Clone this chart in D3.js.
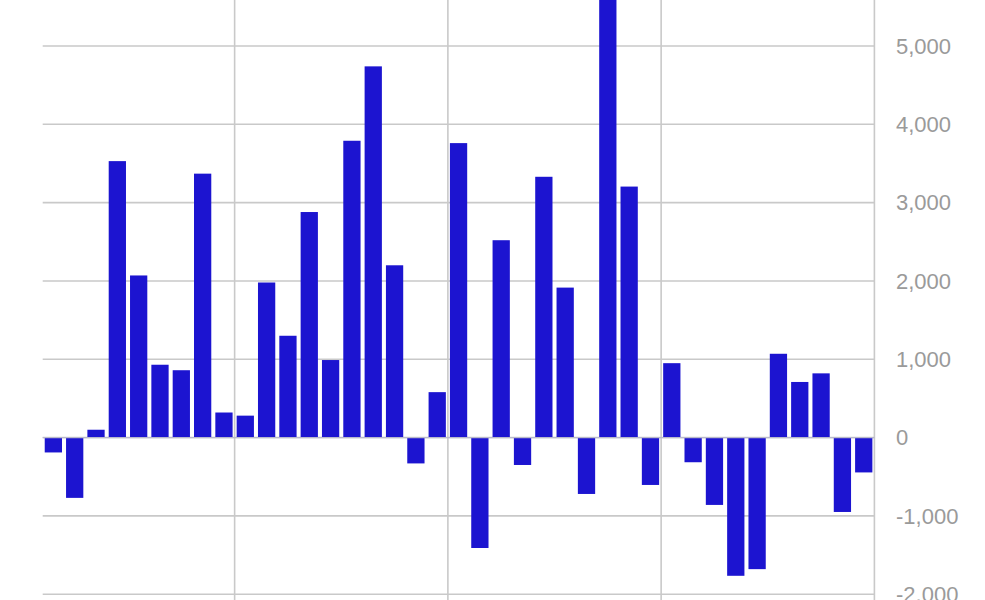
<!DOCTYPE html>
<html>
<head>
<meta charset="utf-8">
<script src="https://cdn.jsdelivr.net/npm/d3@7/dist/d3.min.js"></script>
<style>
  html, body { margin: 0; padding: 0; background: #fff; overflow: hidden; }
  svg { display: block; }
</style>
</head>
<body>
<svg id="chart" width="985" height="600"></svg>
<script>
// ---- data ----
const categories = d3.range(1, 40);
const values = [
  -190, -770, 100, 3530, 2070, 930, 860, 3370, 320, 280,
  1980, 1300, 2880, 990, 3790, 4740, 2200, -330, 580, 3760,
  -1410, 2520, -350, 3330, 1915, -720, 5900, 3205, -605, 950,
  -315, -860, -1765, -1680, 1070, 710, 820, -950, -445
];
const yTicks = [-2000, -1000, 0, 1000, 2000, 3000, 4000, 5000];
const xGridEvery = 10; // vertical grid line after every 10th bar (ending at last bar)

// ---- layout ----
const svg = d3.select("#chart");
const left = 42.7, right = 874.4;
const x = d3.scaleBand().domain(categories).range([left, right])
  .paddingInner(0.19).paddingOuter(0.095);
const y = d3.scaleLinear().domain([-2000, 5000]).range([594.2, 46.0]);

const gridColor = "#c9c9c9";

// horizontal grid lines
svg.append("g").selectAll("line").data(yTicks).join("line")
  .attr("x1", left).attr("x2", right)
  .attr("y1", d => y(d)).attr("y2", d => y(d))
  .attr("stroke", gridColor).attr("stroke-width", 1.6);

// vertical grid lines at band boundaries
const step = x.step();
const boundary = i => x(categories[i]) + x.bandwidth() + step * x.paddingInner() / 2;
const vIdx = categories.map((c, i) => i).filter(i => (categories.length - 1 - i) % xGridEvery === 0);
svg.append("g").selectAll("line").data(vIdx).join("line")
  .attr("x1", i => boundary(i)).attr("x2", i => boundary(i))
  .attr("y1", 0).attr("y2", 600)
  .attr("stroke", gridColor).attr("stroke-width", 1.6);

// bars
svg.append("g").selectAll("rect").data(values).join("rect")
  .attr("x", (d, i) => x(categories[i]))
  .attr("width", x.bandwidth())
  .attr("y", d => y(Math.max(0, d)))
  .attr("height", d => Math.abs(y(d) - y(0)))
  .attr("fill", "#1c14d0");

// zero line on top
svg.append("line")
  .attr("x1", left).attr("x2", right)
  .attr("y1", y(0)).attr("y2", y(0))
  .attr("stroke", "#b8b8cc").attr("stroke-width", 1.2);

// y axis labels (right side)
const fmt = d => d3.format(",")(d).replace("\u2212", "-");
svg.append("g").selectAll("text").data(yTicks).join("text")
  .attr("x", 896)
  .attr("y", d => y(d))
  .attr("dy", "0.35em")
  .attr("font-family", "Liberation Sans, Arial, sans-serif")
  .attr("font-size", 22)
  .attr("fill", "#9a9a9a")
  .text(d => fmt(d));
</script>
</body>
</html>
